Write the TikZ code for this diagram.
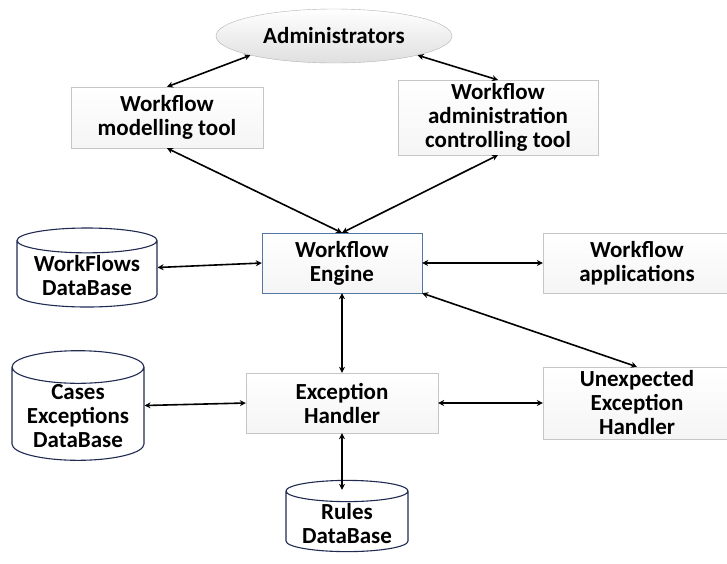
\documentclass[tikz,border=0pt]{standalone}
\usepackage{fontspec}
\setmainfont{Carlito}
\usetikzlibrary{shapes.geometric,shadows,arrows.meta}

\definecolor{dbline}{rgb}{0.13,0.17,0.32}
\definecolor{engline}{rgb}{0.33,0.47,0.65}

\begin{document}
\begin{tikzpicture}[x=1pt, y=1pt,
    font=\fontsize{23}{24}\selectfont\bfseries,
    box/.style={draw=gray!45, top color=white, bottom color=gray!8, align=center,
        drop shadow={shadow xshift=1.2pt, shadow yshift=-1.2pt, opacity=.35}},
    db/.style={cylinder, shape border rotate=90, shape aspect=.22, draw=dbline,
        line width=1.1pt, fill=white, align=center, inner ysep=1pt, anchor=shape center},
    link/.style={{Stealth[length=6pt,width=6pt]}-{Stealth[length=6pt,width=6pt]},
        line width=1.6pt}]
    \useasboundingbox (0,0) rectangle (727,-563);
    % gebruikers
    \node[ellipse, draw=gray!60, top color=white, bottom color=gray!25,
        minimum width=236pt, minimum height=54pt] (admin) at (334,-36) {Administrators};
    \node[box, minimum width=192pt, minimum height=61pt] (model) at (167,-117.5)
        {Workflow\\modelling tool};
    \node[box, minimum width=200pt, minimum height=71pt] (admtool) at (498,-117.5)
        {Workflow\\administration\\controlling tool};
    % engine
    \node[box, draw=engline, minimum width=160pt, minimum height=60pt] (engine) at (342,-263)
        {Workflow\\Engine};
    \node[box, minimum width=188pt, minimum height=60pt] (apps) at (637,-263)
        {Workflow\\applications};
    \node[box, minimum width=192pt, minimum height=60pt] (exch) at (342,-403)
        {Exception\\Handler};
    \node[box, minimum width=188pt, minimum height=72pt] (unexp) at (637,-403)
        {Unexpected\\Exception\\Handler};
    % databases
    \node[db, minimum width=140pt, minimum height=79pt] (wfdb) at (87,-267.5)
        {WorkFlows\\DataBase};
    \node[db, shape aspect=.3, minimum width=132pt, minimum height=105pt] (casesdb)
        at (78,-405.5) {Cases\\Exceptions\\DataBase};
    \node[db, minimum width=122pt, minimum height=68pt] (rules) at (347,-516)
        {Rules\\DataBase};
    % pijlen
    \draw[link] (admin.south west) -- (model.north);
    \draw[link] (admin.south east) -- (admtool.north);
    \draw[link] (model.south) -- (engine.north);
    \draw[link] (admtool.south) -- (engine.north);
    \draw[link] (wfdb.east |- wfdb.shape center) -- (engine.west);
    \draw[link] (engine.east) -- (apps.west);
    \draw[link] (engine.south) -- (exch.north);
    \draw[link] (engine.south east) -- (unexp.north);
    \draw[link] (casesdb.east |- casesdb.shape center) -- (exch.west);
    \draw[link] (exch.east) -- (unexp.west);
    \draw[link] (exch.south) -- ([yshift=-10pt]exch.south |- rules.north);
\end{tikzpicture}
\end{document}
